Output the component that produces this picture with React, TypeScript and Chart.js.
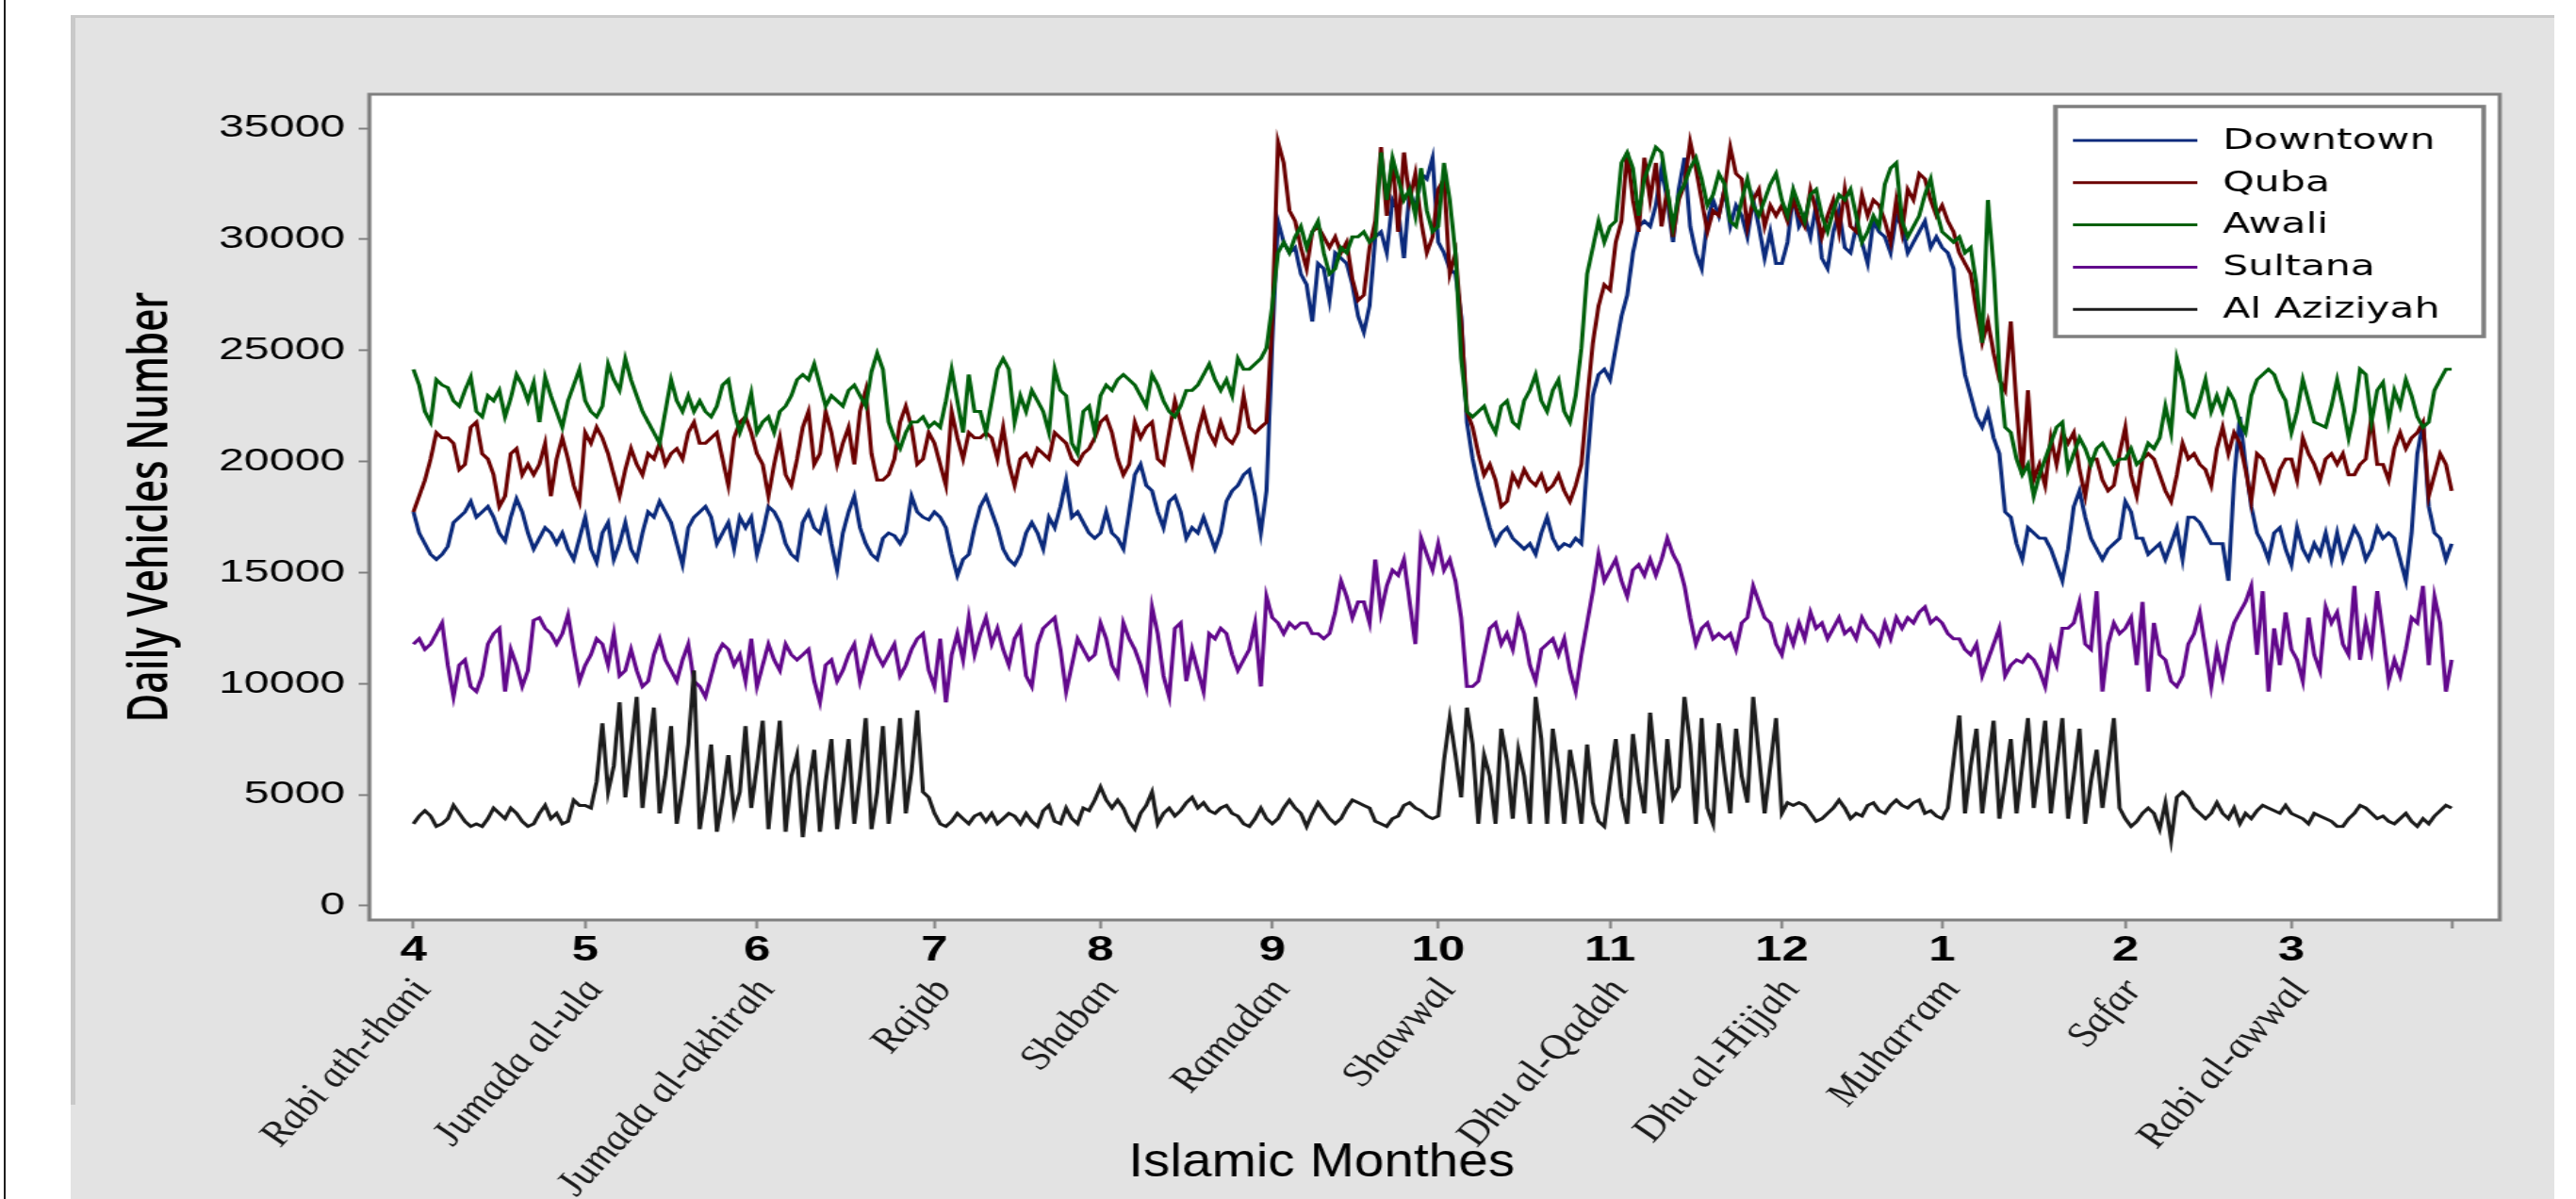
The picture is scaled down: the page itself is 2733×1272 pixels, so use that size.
import React, { useEffect, useRef } from 'react';
import { Chart, registerables } from 'chart.js';

Chart.register(...registerables);

// ---------- page geometry ----------
const PAGE_W = 2733;
const PAGE_H = 1272;
const CW = 1925; // canvas drawing width, stretched horizontally to PAGE_W
const STRETCH = PAGE_W / CW;
const X_NUM_H = 48;

// ---------- axis data ----------
const monthStartDays = [0, 30, 60, 91, 120, 150, 179, 209, 239, 267, 299, 328, 356];
const monthNumbers = ['4', '5', '6', '7', '8', '9', '10', '11', '12', '1', '2', '3', ''];
const monthNames = [
  'Rabi ath-thani', 'Jumada al-ula', 'Jumada al-akhirah', 'Rajab', 'Shaban', 'Ramadan',
  'Shawwal', 'Dhu al-Qadah', 'Dhu al-Hijjah', 'Muharram', 'Safar', 'Rabi al-awwal', '',
];
const yTicks = [0, 5000, 10000, 15000, 20000, 25000, 30000, 35000];

const seriesNames = ['Downtown', 'Quba', 'Awali', 'Sultana', 'Al Aziziyah'];
const seriesColors = ['#0b2a7c', '#6b0000', '#00600b', '#62088c', '#1c1c1c'];
const drawOrder = [5, 4, 3, 2, 1];

// ---------- daily values (one value per day, months 4 .. 3) ----------
const downtown = [
  17730,16780,16300,15820,15590,15820,16180,17250,17490,17730,18200,17490,17730,17970,17490,16780,16420,17490,18320,17730,16780,16060,16540,17020,16780,16300,16780,16060,15590,16540,
  17490,16060,15470,16780,17250,15590,16300,17250,16060,15590,16780,17730,17490,18200,17730,17250,16300,15350,17020,17490,17730,17970,17490,16300,16780,17250,16060,17490,17020,17490,
  15820,16780,17970,17730,17250,16300,15820,15590,17250,17730,17020,16780,17730,16300,15110,16780,17730,18440,17020,16300,15820,15590,16540,16780,16660,16300,16780,18440,17730,17490,17370,
  17730,17490,17020,15820,14870,15590,15820,17020,17970,18440,17730,17020,16060,15590,15350,15820,16780,17250,16780,16060,17490,17020,17970,19160,17490,17730,17250,16780,16540,
  16780,17730,16780,16540,16060,17730,19400,19870,18920,18680,17730,17020,18200,18440,17730,16540,17020,16780,17490,16780,16060,16780,18200,18680,18920,19400,19630,18440,16780,18680,
  25350,30820,29870,29390,29630,28440,27960,26300,28910,28680,27250,29390,29150,28910,27960,26540,25820,27010,30110,30340,29390,31770,31290,29150,32250,31290,32960,32720,33670,
  29870,29390,28680,28440,26540,21770,20110,18920,17970,17020,16300,16780,17020,16540,16300,16060,16300,15820,16780,17490,16540,16060,16300,16180,16540,16300,19870,22960,23910,24150,
  23680,25110,26540,27480,29390,30580,30820,30580,31530,33200,31770,29870,32250,33670,30580,29390,28680,30820,31770,31060,32250,30580,31530,31060,30110,31770,30580,29150,30340,28910,
  28910,29870,32010,30580,31060,30110,31530,29150,28680,30340,31290,29630,29390,30580,29870,28910,30820,30340,30110,29390,31060,30580,29390,29870,30340,30820,29630,30110,
  29630,29390,28680,25580,23910,22960,22010,21540,22250,21060,20350,17730,17490,16300,15590,17020,16780,16540,16540,16060,15350,14630,16060,17970,18680,17490,16540,16060,15590,16060,16300,16540,
  18200,17730,16540,16540,15820,16060,16300,15590,16300,17020,15590,17490,17490,17250,16780,16300,16300,16300,14630,19160,22010,19870,17970,16780,16300,15590,16780,17020,16060,
  15350,17020,16060,15590,16300,15820,16780,15590,16780,15590,16300,17020,16540,15590,16060,17020,16540,16780,16540,15590,14630,16780,20350,21770,17970,16780,16540,15590,16300,
];

const quba = [
  17730,18440,19160,20110,21300,21060,21060,20820,19630,19870,21540,21770,20350,20110,19400,17970,18440,20350,20580,19400,19870,19400,19870,20820,18440,20110,21060,20110,18920,18200,
  21300,20820,21540,21060,20350,19400,18440,19630,20580,19870,19400,20350,20110,20820,19870,20350,20580,20110,21300,21770,20820,20820,21060,21300,20110,18920,21060,21770,22010,21300,
  20350,19870,18440,19870,21060,19400,18920,20110,21540,22250,19870,20350,22250,21300,19870,20820,21540,19870,22250,23200,20350,19160,19160,19400,20110,21770,22490,21540,19870,20110,21300,
  20820,19870,18920,22250,21060,20110,21300,21060,21060,21300,21060,20110,21540,19870,18920,20110,20350,19870,20580,20350,20110,21300,21060,20820,20110,19870,20350,20580,21060,
  21770,22010,21300,20110,19400,19870,21770,21060,21540,21770,20110,19870,21300,22730,21770,20820,19870,21300,22250,21300,20820,21770,21060,20820,21300,22960,21540,21300,21540,21770,
  26300,34390,33440,31290,30820,29630,28680,30340,30580,30110,29630,30110,29390,29870,28200,27250,27490,29630,30820,34150,31060,33670,30340,33910,31770,32960,30820,29390,30110,
  32250,32720,28440,29390,26300,22250,21540,20350,19400,19870,19160,17970,18200,19400,18920,19630,19160,18920,19400,18680,18920,19400,18680,18200,18920,19870,22730,25340,27010,27960,
  27720,29870,30820,33910,31770,30340,33670,31770,33440,30580,32250,30110,31770,32480,34390,33200,31770,30340,31290,31060,32250,34150,32960,32720,30580,31770,32250,30580,31530,31060,
  31530,30820,31770,31060,30580,32250,31290,30110,31060,31770,30340,32250,30580,30340,32010,31060,31770,31530,30820,29870,31770,30340,32250,31770,32960,32720,31770,31060,
  31530,30820,30340,29390,28910,28440,26770,25340,26300,24870,23680,23200,26300,22490,19400,23200,19160,19870,18920,21060,19870,21300,20820,21300,19630,18440,20110,20110,19160,18680,18920,20350,
  21540,19400,18440,20110,20350,20110,19400,18680,18200,19400,20820,20110,20350,19870,19630,18920,20580,21540,20350,21300,20820,19630,18200,20350,20110,19400,18680,19630,20110,
  20110,19160,21060,20350,19870,19160,20110,20350,19870,20350,19400,19400,19870,20110,22010,19870,19870,19160,20580,21300,20580,21060,21300,21770,18440,19400,20350,19870,18680,
];

const awali = [
  24150,23440,22250,21770,23680,23440,23320,22730,22490,23200,23800,22250,22010,22960,22730,23200,22010,22850,23910,23440,22730,23560,21770,23800,22960,22250,21540,22730,23440,24150,
  22730,22250,22010,22490,24390,23680,23200,24630,23680,22960,22250,21770,21300,20820,22250,23680,22730,22250,22960,22250,22730,22250,22010,22490,23440,23680,22250,21300,22010,23080,
  21300,21770,22010,21300,22250,22490,22960,23680,23910,23680,24390,23440,22490,22960,22730,22490,23200,23440,22960,22490,24040,24870,24150,21770,21060,20580,21300,21770,21770,22010,21540,
  21770,21540,22730,24150,22730,21300,23910,22250,22250,21300,22730,24150,24630,24150,21770,22960,22250,23200,22730,22250,21300,24150,23200,22960,20820,20350,22250,22490,21300,
  22960,23440,23200,23680,23910,23680,23440,22960,22490,23910,23440,22730,22250,22010,22490,23200,23200,23440,23910,24390,23680,23200,23680,22960,24630,24150,24150,24390,24630,25110,
  27010,29390,29870,29390,30110,30580,29630,30340,30820,29390,28440,28680,29630,29390,30110,30110,30340,29870,30110,33910,31770,33670,32720,31770,32250,31060,33200,31290,30340,
  30580,33440,31770,29390,24630,22250,22010,22250,22490,21770,21300,22490,22730,21770,21540,22730,23200,23910,22730,22250,23200,23680,22250,21770,22960,25110,28440,29630,30820,29870,
  30580,30820,33440,33910,33200,31060,32720,33440,34150,33910,32250,30580,32010,32480,33200,33670,32720,31530,32010,32960,32480,30820,30580,31770,32720,31530,31060,31770,32480,32960,
  31770,31060,32250,31530,30820,32010,32250,31060,30340,31290,32010,31770,32250,31060,29870,30340,31060,30580,32480,33200,33440,30820,30110,30580,31060,32010,32720,31290,
  30340,30110,29870,30110,29390,29630,27960,25340,31770,28680,24150,21540,21300,20110,19400,19870,18440,19400,20110,20820,21540,21770,19630,20350,21060,20580,19870,20580,20820,20350,19870,20110,
  20110,20580,19870,20110,20820,20580,21060,22490,21300,24630,23680,22250,22010,22730,23680,22250,22960,22250,23200,22730,21770,21300,22960,23680,23910,24150,23910,23200,22730,
  21300,22250,23680,22730,21770,21660,21540,22490,23680,22490,21060,22250,24150,23910,21770,23200,23560,21770,23200,22490,23680,22960,22010,21540,21770,23200,23680,24150,24150,
];

const sultana = [
  11780,12020,11540,11780,12250,12730,10830,9400,10830,11070,9870,9640,10350,11780,12250,12490,9640,11540,10830,9870,10590,12850,12970,12490,12250,11780,12250,13090,11540,10110,
  10830,11300,12020,11780,10830,12250,10350,10590,11540,10590,9870,10110,11300,12020,11070,10590,10110,11070,11780,10110,9870,9400,10350,11300,11780,11540,10830,11300,10110,12020,
  9870,10830,11780,11070,10590,11780,11300,11070,11300,11540,10110,9160,10830,11070,10110,10590,11300,11780,10110,11070,12020,11300,10830,11300,11780,10350,10830,11540,12020,12250,10590,
  9870,12020,9160,11300,12250,11070,12970,11300,12250,12970,11780,12490,11540,10830,12020,12490,10350,9870,11780,12490,12730,12970,11540,9640,10830,12020,11540,11070,11300,
  12730,12020,10830,10350,12730,12020,11540,10830,9870,13450,12250,10350,9400,12490,12730,10110,11540,10590,9640,12250,12020,12490,12250,11300,10590,11070,11540,12730,9870,13920,
  12970,12730,12250,12730,12490,12730,12730,12250,12250,12020,12250,13210,14630,13920,12970,13680,13680,12730,15590,13210,14400,15110,14870,15590,13680,11780,16540,15820,15110,
  16300,15110,15590,14630,12970,9870,9870,10110,11300,12490,12730,11780,12250,11540,12970,12250,10830,10110,11540,11780,12020,11300,12020,10590,9640,11300,12730,14160,15820,14630,
  15110,15590,14630,13920,15110,15350,14870,15590,14870,15590,16540,15820,15350,14400,12970,11780,12490,12730,12020,12250,12020,12250,11540,12730,12970,14400,13680,12970,12730,11780,
  11300,12490,11780,12730,12020,13210,12490,12730,12020,12490,12970,12250,12490,12020,12970,12490,12250,11780,12730,12020,12970,12490,12970,12730,13210,13450,12730,12970,
  12730,12250,12020,12020,11540,11300,11780,10350,11070,11780,12490,10350,10830,11070,10950,11300,11070,10590,9870,11540,10830,12490,12490,12730,13680,11780,11540,14160,9640,11780,12730,12250,
  12490,12970,10830,13680,9640,12730,11300,11070,10110,9870,10350,11780,12250,13210,11540,9870,11540,10350,11780,12730,13210,13680,14400,11300,14160,9640,12490,10830,13210,
  11540,11070,10110,12970,11300,10590,13450,12730,13210,11780,11300,14400,11070,12730,11540,14160,12250,10110,11070,10350,11540,12970,12730,14400,10830,13920,12730,9640,11070,
];

const alAziziyah = [
  3690,4040,4280,4040,3570,3690,3920,4520,4160,3800,3570,3690,3570,3920,4400,4160,3920,4400,4160,3800,3570,3690,4160,4520,3920,4160,3690,3800,4760,4520,
  4520,4400,5590,8210,5120,6300,9160,4880,7020,9400,4400,6780,8920,4160,5830,8090,3690,5350,7260,10590,3450,5120,7260,3330,4880,6780,4160,5120,8090,4400,
  6300,8330,3450,6060,8330,3330,5830,6780,3090,5350,7020,3330,5590,7500,3450,5350,7500,3690,5830,8450,3450,5120,8090,3690,5830,8450,4160,6060,8800,5120,4880,
  4160,3690,3570,3800,4160,3920,3690,4040,4160,3800,4160,3690,3920,4160,4040,3690,4160,3800,3570,4280,4520,3800,3690,4400,3920,3690,4400,4280,4760,
  5350,4760,4400,4760,4400,3800,3450,4160,4520,5120,3690,4160,4400,4040,4280,4640,4880,4400,4640,4280,4160,4400,4520,4160,4040,3690,3570,3920,4400,3920,
  3690,3920,4400,4760,4400,4160,3570,4160,4640,4280,3920,3690,3920,4400,4760,4640,4520,4400,3800,3690,3570,3920,4040,4520,4640,4400,4280,4040,3920,
  4040,6540,8450,6780,4880,8920,7260,3690,6780,5830,3690,7970,6540,3920,7020,5830,3690,9400,7500,3690,7970,6060,3690,7020,5590,3690,7260,4640,3800,3570,
  5590,7500,4880,3690,7730,5590,4160,8690,6060,3690,7500,4880,5350,9400,7260,3690,8450,4400,3690,8210,6060,4160,7970,5830,4640,9400,6780,4160,6300,8450,
  4160,4640,4520,4640,4520,4160,3800,3920,4160,4400,4760,4400,3920,4160,4040,4520,4640,4280,4160,4520,4760,4520,4400,4640,4760,4160,4280,4040,
  3920,4400,6540,8570,4160,6300,7970,4160,6300,8330,3920,5590,7500,4160,6300,8450,4400,6300,8330,4160,6300,8450,3920,5830,7970,3690,5590,7020,4400,6300,8450,4400,
  3920,3570,3800,4160,4400,4160,3450,4640,2970,4880,5120,4880,4400,4160,3920,4160,4640,4160,3920,4400,3690,4160,3920,4280,4520,4400,4280,4160,4520,
  4160,4040,3920,3690,4160,4040,3920,3800,3570,3570,3920,4160,4520,4400,4160,3920,4040,3800,3690,3920,4160,3800,3570,3920,3690,4040,4280,4520,4400,
];

const seriesValues = [downtown, quba, awali, sultana, alAziziyah];

// ---------- plugins ----------
const frameAndExtras = {
  id: 'frameAndExtras',
  beforeDraw(chart: any) {
    const { ctx, chartArea: ca } = chart;
    ctx.save();
    ctx.fillStyle = '#ffffff';
    ctx.fillRect(ca.left, ca.top, ca.right - ca.left, ca.bottom - ca.top);
    ctx.restore();
  },
  afterDraw(chart: any) {
    const { ctx, chartArea: ca } = chart;
    ctx.save();
    // plot frame
    ctx.strokeStyle = '#7f7f7f';
    ctx.lineWidth = 3;
    ctx.strokeRect(ca.left, ca.top, ca.right - ca.left, ca.bottom - ca.top);

    // legend box
    const bx = ca.right - 332;
    const by = ca.top + 13;
    const bw = 320;
    const bh = 244;
    ctx.fillStyle = '#ffffff';
    ctx.fillRect(bx, by, bw, bh);
    ctx.strokeStyle = '#7f7f7f';
    ctx.lineWidth = 3.5;
    ctx.strokeRect(bx, by, bw, bh);
    ctx.font = '30px "DejaVu Sans"';
    ctx.textBaseline = 'middle';
    ctx.textAlign = 'left';
    chart.data.datasets.forEach((ds: any, i: number) => {
      const y = by + 36 + i * 44.8;
      ctx.strokeStyle = ds.borderColor;
      ctx.lineWidth = 3;
      ctx.beginPath();
      ctx.moveTo(bx + 13, y);
      ctx.lineTo(bx + 106, y);
      ctx.stroke();
      ctx.fillStyle = '#000000';
      ctx.fillText(ds.label, bx + 125, y + 1);
    });

    // x axis title
    const tx = ca.left + 0.447 * (ca.right - ca.left);
    ctx.translate(tx, 1234);
    ctx.scale(0.8, 1);
    ctx.font = '50px "Liberation Sans"';
    ctx.textAlign = 'center';
    ctx.textBaseline = 'middle';
    ctx.fillStyle = '#000000';
    ctx.fillText('Islamic Monthes', 0, 0);
    ctx.restore();
  },
};

export default function App() {
  const canvasRef = useRef<HTMLCanvasElement | null>(null);

  useEffect(() => {
    if (!canvasRef.current) return;
    const monthTicks = (scale: any) => {
      scale.ticks = monthStartDays.map((v) => ({ value: v }));
    };
    const chart = new Chart(canvasRef.current, {
      type: 'line',
      data: {
        datasets: seriesValues.map((vals, k) => ({
          label: seriesNames[k],
          data: vals.map((v, i) => ({ x: i, y: v })),
          borderColor: seriesColors[k],
          backgroundColor: seriesColors[k],
          borderWidth: 3,
          pointRadius: 0,
          tension: 0,
          fill: false,
          order: drawOrder[k],
          xAxisID: 'x',
          yAxisID: 'y',
        })),
      },
      options: {
        animation: false,
        responsive: false,
        maintainAspectRatio: false,
        devicePixelRatio: 1,
        events: [],
        layout: { padding: { left: 0, right: CW - 1868, top: 100, bottom: 0 } },
        plugins: {
          legend: { display: false },
          tooltip: { enabled: false },
        },
        scales: {
          x: {
            type: 'linear',
            position: 'bottom',
            min: -7.7,
            max: 364.4,
            afterBuildTicks: monthTicks,
            afterFit: (s: any) => { s.height = X_NUM_H; },
            ticks: {
              autoSkip: false,
              minRotation: 0,
              maxRotation: 0,
              padding: 2,
              color: '#000000',
              font: { family: 'Liberation Sans', size: 36, weight: 'bold' },
              callback: (_v: any, i: number) => monthNumbers[i],
            },
            grid: {
              display: true,
              drawOnChartArea: false,
              drawTicks: true,
              tickLength: 9,
              tickWidth: 2,
              tickColor: '#7f7f7f',
              color: '#7f7f7f',
            },
            border: { display: false },
          },
          x2: {
            type: 'linear',
            position: 'bottom',
            min: -7.7,
            max: 364.4,
            afterBuildTicks: monthTicks,
            afterFit: (s: any) => { s.height = PAGE_H - 976 - X_NUM_H; },
            ticks: {
              autoSkip: false,
              minRotation: 56,
              maxRotation: 56,
              padding: 0,
              labelOffset: 7,
              color: '#1a1a1a',
              font: { family: 'Liberation Serif', size: 35, style: 'italic' },
              callback: (_v: any, i: number) => monthNames[i],
            },
            grid: { display: false },
            border: { display: false },
          },
          y: {
            type: 'linear',
            position: 'left',
            min: -640,
            max: 36530,
            afterBuildTicks: (s: any) => { s.ticks = yTicks.map((v) => ({ value: v })); },
            afterFit: (s: any) => { s.width = 276; },
            ticks: {
              padding: 10,
              color: '#000000',
              font: { family: 'Liberation Sans', size: 34 },
              callback: (v: any) => String(v),
            },
            grid: {
              display: true,
              drawOnChartArea: false,
              drawTicks: true,
              tickLength: 8,
              tickWidth: 2,
              tickColor: '#7f7f7f',
              color: '#7f7f7f',
            },
            border: { display: false },
            title: {
              display: true,
              text: 'Daily Vehicles Number',
              color: '#000000',
              font: { family: 'Open Sans', size: 42, weight: '600' },
              padding: { top: 88, bottom: 0 },
            },
          },
        },
      },
      plugins: [frameAndExtras],
    } as any);
    return () => chart.destroy();
  }, []);

  return (
    <div style={{ position: 'absolute', left: 0, top: 0, width: PAGE_W, height: PAGE_H, overflow: 'hidden', background: '#ffffff' }}>
      <div style={{ position: 'absolute', left: 4, top: 0, width: 2, height: PAGE_H, background: '#1e1e1e' }} />
      <div style={{ position: 'absolute', left: 75, top: 16, width: 2710 - 75, height: PAGE_H - 16, background: '#e3e3e3', borderTop: '3px solid #c9c9c9', boxSizing: 'border-box' }} />
      <div style={{ position: 'absolute', left: 75, top: 16, width: 5, height: 1172 - 16, background: '#c9c9c9' }} />
      <div style={{ position: 'absolute', left: 0, top: 0, width: CW, height: PAGE_H, transform: `scaleX(${STRETCH})`, transformOrigin: '0 0' }}>
        <canvas ref={canvasRef} width={CW} height={PAGE_H} style={{ width: CW, height: PAGE_H, display: 'block' }} />
      </div>
    </div>
  );
}
